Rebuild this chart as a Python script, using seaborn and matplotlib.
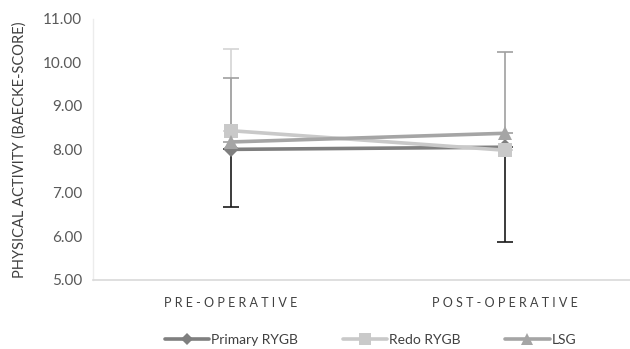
import matplotlib
matplotlib.use("Agg")
import matplotlib.pyplot as plt
from matplotlib.lines import Line2D
import seaborn as sns
import pandas as pd

# Baecke score means per surgery group, before and after operation
timepoints = ["PRE-OPERATIVE", "POST-OPERATIVE"]
groups = ["Primary RYGB", "Redo RYGB", "LSG"]
primary_rygb = [8.00, 8.05]
redo_rygb = [8.43, 7.98]
lsg = [8.17, 8.37]

# one-sided error bar extents (lower for Primary, upper for the others)
primary_lower = [1.33, 2.18]
redo_upper = [1.87, 0.0]
lsg_upper = [1.48, 1.86]

yticks = [5, 6, 7, 8, 9, 10, 11]

sns.set_theme(style="white")
plt.rcParams["font.family"] = ["Lato", "DejaVu Sans"]

line_colors = {"Primary RYGB": "#7f7f7f", "Redo RYGB": "#c9c9c9", "LSG": "#a5a5a5"}
err_colors = {"Primary RYGB": "#1a1a1a", "Redo RYGB": "#d4d4d4", "LSG": "#a0a0a0"}
markers = {"Primary RYGB": "D", "Redo RYGB": "s", "LSG": "^"}
msizes = {"Primary RYGB": 8, "Redo RYGB": 10, "LSG": 10}

values = {"Primary RYGB": primary_rygb, "Redo RYGB": redo_rygb, "LSG": lsg}
df = pd.DataFrame(
    [{"time": i, "group": g, "score": v}
     for g in groups for i, v in enumerate(values[g])]
)

fig = plt.figure(figsize=(6.30, 3.49), dpi=100)
ax = fig.add_axes([0.148, 0.198, 0.872, 0.748])

# error bars first so lines and markers sit over them
errs = {
    "Primary RYGB": ([primary_lower, [0, 0]]),
    "Redo RYGB": ([[0, 0], redo_upper]),
    "LSG": ([[0, 0], lsg_upper]),
}
for g in groups:
    ax.errorbar(range(len(timepoints)), values[g], yerr=errs[g], fmt="none",
                ecolor=err_colors[g], elinewidth=1.2, capsize=6, capthick=1.2,
                zorder=1)

for g in groups:
    sub = df[df["group"] == g]
    sns.lineplot(data=sub, x="time", y="score", ax=ax, color=line_colors[g],
                 linewidth=2.6, marker=markers[g], markersize=msizes[g],
                 markeredgewidth=0, legend=False, zorder=3)

ax.set_xlim(-0.5, 1.5)
ax.set_ylim(5, 11)
ax.set_yticks(yticks)
ax.set_yticklabels([f"{t:.2f}" for t in yticks], fontsize=11, color="#595959")
ax.set_xticks(range(len(timepoints)))
ax.set_xticklabels([" ".join(t) for t in timepoints], fontsize=9,
                   color="#404040")
ax.tick_params(axis="both", length=0)
ax.tick_params(axis="y", pad=8)
ax.tick_params(axis="x", pad=12)
ax.set_xlabel("")
ax.set_ylabel("PHYSICAL ACTIVITY (BAECKE-SCORE)", fontsize=10.5, color="#404040",
              labelpad=12)
for s in ["right", "top"]:
    ax.spines[s].set_visible(False)
ax.spines["left"].set_color("#ececec")
ax.spines["left"].set_linewidth(1.0)
ax.spines["bottom"].set_color("#d9d9d9")
ax.spines["bottom"].set_linewidth(1.2)
ax.grid(False)

handles = [Line2D([0], [0], color=line_colors[g], linewidth=2.6,
                  marker=markers[g], markersize=msizes[g] * 0.8,
                  markeredgewidth=0) for g in groups]
fig.legend(handles, groups, loc="center", bbox_to_anchor=(0.588, 0.025),
           ncol=3, frameon=False, fontsize=10, handlelength=3.2,
           handletextpad=0.15, columnspacing=3.2, labelcolor="#404040")

fig.savefig("out.png", dpi=100)
